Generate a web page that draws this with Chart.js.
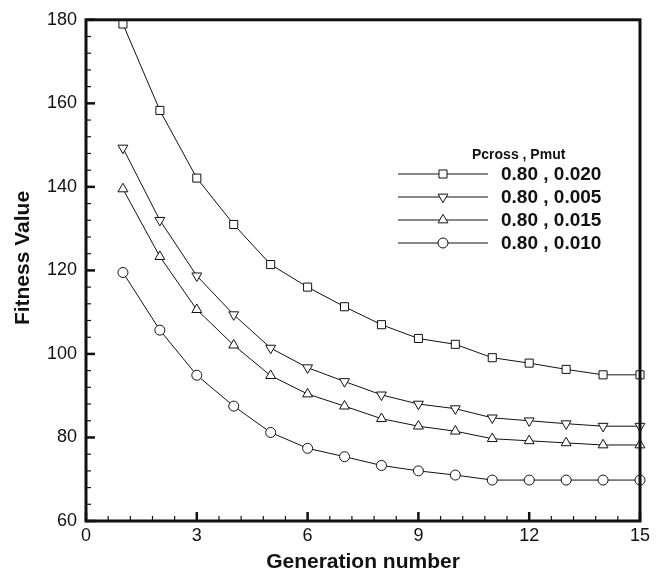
<!DOCTYPE html>
<html>
<head>
<meta charset="utf-8">
<script src="https://cdn.jsdelivr.net/npm/chart.js@4/dist/chart.umd.min.js"></script>
<style>
  body { margin: 0; background: #fff; }
  #wrap { width: 656px; height: 575px; }
</style>
</head>
<body>
<div id="wrap"><canvas id="myChart" width="656" height="575"></canvas></div>
<script>
// data
var generations = [1, 2, 3, 4, 5, 6, 7, 8, 9, 10, 11, 12, 13, 14, 15]
var fit_020 = [179, 158.3, 142.1, 131, 121.4, 116, 111.3, 107, 103.7, 102.3, 99.1, 97.8, 96.3, 95, 95]
var fit_005 = [149.3, 132, 118.7, 109.4, 101.4, 96.7, 93.4, 90.2, 88, 86.9, 84.7, 84, 83.3, 82.7, 82.7]
var fit_015 = [139.5, 123.3, 110.6, 102.1, 94.8, 90.4, 87.5, 84.5, 82.7, 81.5, 79.7, 79.2, 78.7, 78.2, 78.2]
var fit_010 = [119.5, 105.7, 94.9, 87.5, 81.2, 77.4, 75.4, 73.3, 72, 71, 69.8, 69.8, 69.8, 69.8, 69.8]
var labels = ["0.80 , 0.020", "0.80 , 0.005", "0.80 , 0.015", "0.80 , 0.010"]
var legendTitle = "Pcross , Pmut"
var xTitle = "Generation number"
var yTitle = "Fitness Value"

var ink = '#111'
var fontName = "'Liberation Sans', Arial, Helvetica, sans-serif"

function pts(vals) {
    var out = []
    for (var i = 0; i < vals.length; i++) out.push({x: generations[i], y: vals[i]})
    return out
}

function ds(label, vals, style, rot, r) {
    return {
        label: label,
        data: pts(vals),
        borderColor: ink,
        borderWidth: 1,
        backgroundColor: '#fff',
        pointStyle: style,
        pointRotation: rot,
        pointRadius: r,
        pointBorderWidth: 1,
        pointBorderColor: ink,
        pointBackgroundColor: '#fff',
        tension: 0,
        clip: false
    }
}

var sets = [
    ds(labels[0], fit_020, 'rect', 0, 5.7),
    ds(labels[1], fit_005, 'triangle', 180, 5.7),
    ds(labels[2], fit_015, 'triangle', 0, 5.7),
    ds(labels[3], fit_010, 'circle', 0, 5)
]

// marker for the legend, same shapes as chart.js draws
function marker(ctx, style, rot, r, x, y) {
    ctx.beginPath()
    if (style == 'circle') {
        ctx.arc(x, y, r, 0, Math.PI * 2)
    } else if (style == 'rect') {
        var s = r * Math.SQRT1_2
        ctx.rect(x - s, y - s, 2 * s, 2 * s)
    } else {
        var base = rot * Math.PI / 180 - Math.PI / 2
        for (var k = 0; k < 3; k++) {
            var ang = base + k * 2 * Math.PI / 3
            var px = x + r * Math.cos(ang), py = y + r * Math.sin(ang)
            if (k == 0) ctx.moveTo(px, py); else ctx.lineTo(px, py)
        }
        ctx.closePath()
    }
    ctx.fillStyle = '#fff'
    ctx.fill()
    ctx.stroke()
}

// frame, inward ticks (major + minor), y title, legend inside the plot
var framePlugin = {
    id: 'frame',
    afterDraw: function(chart) {
        var ctx = chart.ctx
        var a = chart.chartArea
        var xs = chart.scales.x
        var ys = chart.scales.y
        ctx.save()
        ctx.strokeStyle = ink
        ctx.lineCap = 'butt'

        // minor ticks
        ctx.lineWidth = 1.2
        for (var v = 0; v <= 15.001; v += 0.6) {
            var px = xs.getPixelForValue(v)
            ctx.beginPath(); ctx.moveTo(px, a.bottom); ctx.lineTo(px, a.bottom - 5); ctx.stroke()
        }
        for (var w = 60; w <= 180.001; w += 4) {
            var py = ys.getPixelForValue(w)
            ctx.beginPath(); ctx.moveTo(a.left, py); ctx.lineTo(a.left + 5, py); ctx.stroke()
        }
        // major ticks
        ctx.lineWidth = 2.5
        for (var v2 = 0; v2 <= 15.001; v2 += 3) {
            var px2 = xs.getPixelForValue(v2)
            ctx.beginPath(); ctx.moveTo(px2, a.bottom); ctx.lineTo(px2, a.bottom - 9); ctx.stroke()
        }
        for (var w2 = 60; w2 <= 180.001; w2 += 20) {
            var py2 = ys.getPixelForValue(w2)
            ctx.beginPath(); ctx.moveTo(a.left, py2); ctx.lineTo(a.left + 9, py2); ctx.stroke()
        }

        // box
        ctx.lineWidth = 3
        ctx.strokeRect(a.left, a.top, a.right - a.left, a.bottom - a.top)

        // y title (sits a bit above the axis middle in the original)
        ctx.fillStyle = ink
        ctx.save()
        ctx.translate(23, 258)
        ctx.rotate(-Math.PI / 2)
        ctx.font = 'bold 21px ' + fontName
        ctx.textAlign = 'center'
        ctx.textBaseline = 'middle'
        ctx.fillText(yTitle, 0, 0)
        ctx.restore()

        // legend
        ctx.font = 'bold 14px ' + fontName
        ctx.textAlign = 'left'
        ctx.textBaseline = 'middle'
        ctx.fillText(legendTitle, 472, 155)
        var rowY = [174, 197, 220, 243]
        for (var i = 0; i < sets.length; i++) {
            var y = rowY[i]
            ctx.lineWidth = 1
            ctx.strokeStyle = ink
            ctx.beginPath(); ctx.moveTo(398, y); ctx.lineTo(488, y); ctx.stroke()
            marker(ctx, sets[i].pointStyle, sets[i].pointRotation, sets[i].pointRadius, 443, y)
            ctx.fillStyle = ink
            ctx.font = 'bold 19px ' + fontName
            ctx.fillText(sets[i].label, 501, y + 1)
        }
        ctx.restore()
    }
}

var ctx1 = document.getElementById("myChart").getContext('2d')
var LineChart1 = new Chart(ctx1, {
    type: 'line',
    data: { datasets: sets },
    plugins: [framePlugin],
    options: {
        responsive: false,
        animation: false,
        layout: { padding: { top: 17, right: 16, left: 0, bottom: 0 } },
        plugins: { legend: { display: false }, tooltip: { enabled: false } },
        scales: {
            x: {
                type: 'linear',
                min: 0, max: 15,
                border: { display: false },
                grid: { display: false, drawTicks: false },
                ticks: { stepSize: 3, color: ink, padding: 4, font: { family: fontName, size: 18 } },
                title: { display: true, text: xTitle, color: ink, padding: { top: 0, bottom: 0 },
                         font: { family: fontName, size: 21, weight: 'bold' } },
                afterFit: function(s) { s.height = 54 }
            },
            y: {
                min: 60, max: 180,
                border: { display: false },
                grid: { display: false, drawTicks: false },
                ticks: { stepSize: 20, color: ink, padding: 9, autoSkip: false, font: { family: fontName, size: 18 } },
                title: { display: false },
                afterFit: function(s) { s.width = 86 }
            }
        }
    }
})
</script>
</body>
</html>
